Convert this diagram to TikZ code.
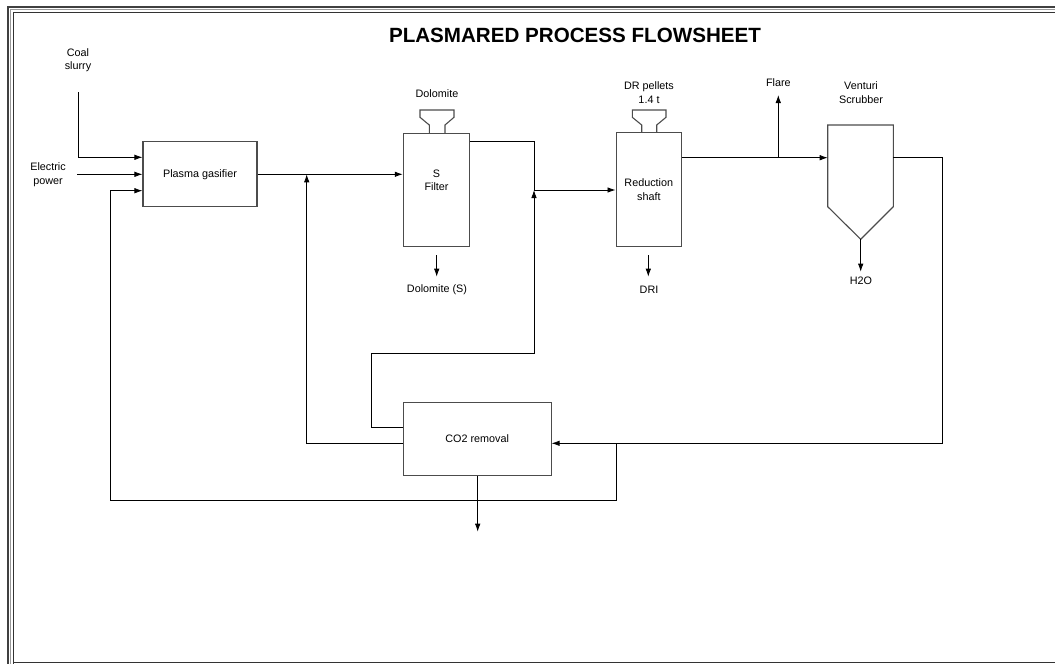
\documentclass[tikz,border=0pt]{standalone}
\usepackage{fontspec}
\setmainfont{Liberation Sans}
\usetikzlibrary{arrows.meta}
\newcommand\smalltxt{\fontsize{10.8}{13.5}\selectfont}
\begin{document}
\begin{tikzpicture}[x=1pt,y=-1pt,
  box/.style={draw=black!70, line width=1.1pt, fill=white, inner sep=0pt, font=\smalltxt, align=center},
  boxline/.style={draw=black!70, line width=1.1pt},
  flow/.style={draw=black, line width=0.8pt, -{Latex[length=8pt,width=5.5pt]}},
  plain/.style={draw=black, line width=0.8pt},
  lbl/.style={font=\smalltxt, align=center, inner sep=0pt}]
\useasboundingbox (0,0) rectangle (1055,664);
% frame
\draw[black!75, line width=1.3pt] (8,664) -- (8,7) -- (1055,7);
\draw[black!40, line width=0.8pt] (10.5,664) -- (10.5,9.5) -- (1055,9.5);
\draw[black!80, line width=1pt] (13,664) -- (13,12) -- (1055,12);
\draw[black!80, line width=1.4pt] (13,662.5) -- (1055,662.5);
% title
\node[font=\fontsize{20.6}{24}\selectfont\bfseries, inner sep=0pt] (title) at (575,35) {PLASMARED PROCESS FLOWSHEET};
% boxes
\node[box, minimum width=114, minimum height=65] (gas) at (200,174.3) {Plasma gasifier};
\node[box, minimum width=66, minimum height=113.3] (sf) at (436.3,190) {};
\node[lbl] (sflbl) at (436.5,180.5) {S\\Filter};
\node[box, minimum width=65.5, minimum height=114] (rs) at (648.8,189.7) {Reduction\\shaft};
\node[box, minimum width=147.7, minimum height=73.4] (co2) at (477.2,439) {CO2 removal};
% hoppers
\draw[boxline] (429.3,133.3) -- (429.3,125) -- (420,117.3) -- (420,110) -- (454,110) -- (454,117.3) -- (445,125) -- (445,133.3);
\draw[boxline] (641.7,132.7) -- (641.7,125) -- (632.3,117.3) -- (632.3,110) -- (666,110) -- (666,117.3) -- (656.7,125) -- (656.7,132.7);
% venturi scrubber
\coordinate (vtl) at (827.7,125);
\coordinate (vtr) at (893.3,125);
\coordinate (vbr) at (893.3,206.7);
\coordinate (vtip) at (860.7,239.3);
\coordinate (vbl) at (827.7,206.7);
\draw[boxline] (vbl) -- (vtl) -- (vtr) -- (vbr) -- (vtip) -- cycle;
% labels
\node[lbl] (coal) at (78,60) {Coal\\slurry};
\node[lbl] (elec) at (48,174.5) {Electric\\power};
\node[lbl] (dol) at (437,93.5) {Dolomite};
\node[lbl] (drp) at (649,92.5) {DR pellets\\1.4 t};
\node[lbl] (flare) at (778.3,83) {Flare};
\node[lbl] (vs) at (861,92.5) {Venturi\\Scrubber};
\node[lbl] (dols) at (437,290) {Dolomite (S)};
\node[lbl] (dri) at (649,290) {DRI};
\node[lbl] (h2o) at (861,281) {H2O};
% coordinates for free ends and junctions
\coordinate (coalTop) at (78,92);
\coordinate (elecStart) at (77,174.3);
\coordinate (j1) at (306.7,174.3);
\coordinate (j2) at (534,190);
\coordinate (sfcorner) at (534,141.7);
\coordinate (loopTL) at (371,353.3);
\coordinate (loopTR) at (534,353.3);
\coordinate (fj) at (778.3,157.7);
\coordinate (flareTip) at (778.3,95);
\coordinate (vIn) at (827.7,157.7);
\coordinate (vOut) at (893.3,157.7);
\coordinate (rightTop) at (942.7,157.7);
\coordinate (br) at (616,443.3);
\coordinate (brBot) at (616,500);
\coordinate (leftBot) at (110,500);
\coordinate (dolTop) at (436.7,255);
\coordinate (dolTip) at (436.7,276.7);
\coordinate (driTop) at (648.3,255);
\coordinate (driTip) at (648.3,276.7);
\coordinate (h2oTip) at (860.7,271.7);
\coordinate (co2Tip) at (477.7,531.7);
% connectors
\draw[flow] (coalTop) |- ([yshift=17pt]gas.west);
\draw[flow] (elecStart) -- (gas.west);
\draw[flow] (gas.east) -- (sf.west |- gas.east);
\draw[flow] ([yshift=-4.3pt]co2.west) -| (j1);
\draw[flow] ([yshift=12pt]co2.west) -| (loopTL) -- (loopTR) -- (j2);
\draw[plain] ([yshift=48.3pt]sf.east) -- (sfcorner) -- (j2);
\draw[flow] (j2) -- (rs.west |- j2);
\draw[flow] ([yshift=32pt]rs.east) -- (vIn);
\draw[flow] (fj) -- (flareTip);
\draw[flow] (vOut) -- (rightTop) |- ([yshift=-4.3pt]co2.east);
\draw[flow] (br) -- (brBot) -- (leftBot) |- ([yshift=-16.4pt]gas.west);
\draw[flow] (dolTop) -- (dolTip);
\draw[flow] (driTop) -- (driTip);
\draw[flow] (vtip) -- (h2oTip);
\draw[flow] (co2.south -| co2Tip) -- (co2Tip);
\end{tikzpicture}
\end{document}
